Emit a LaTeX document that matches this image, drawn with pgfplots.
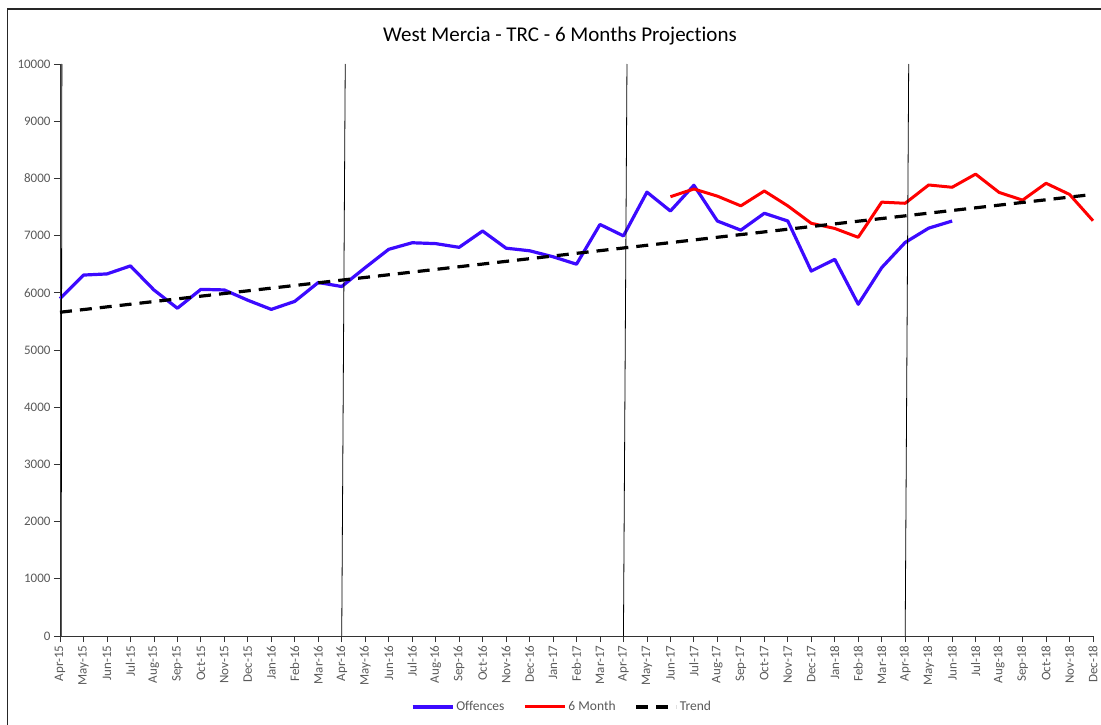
\documentclass[border=0pt]{standalone}
\usepackage{fontspec}
\setmainfont{Carlito}[Ligatures={NoCommon}]
\usepackage{pgfplots}
\pgfplotsset{compat=1.18}
\definecolor{offblue}{RGB}{60,10,255}
\definecolor{tickgray}{RGB}{89,89,89}
\begin{document}
\begin{tikzpicture}
\path[use as bounding box] (-60pt,-88pt) rectangle (1041pt,636pt);
\draw[line width=1.8pt, black!85] (-52.5pt,-120pt) -- (-52.5pt,627pt) -- (1120pt,627pt);
\node[font=\fontsize{21}{23}\selectfont] at (500pt,600pt) {West Mercia - TRC - 6 Months Projections};
\begin{axis}[
  scale only axis,
  width=1033pt, height=572pt,
  xmin=0, xmax=44, ymin=0, ymax=10000,
  axis x line*=bottom, axis y line*=left,
  axis line style={-, black!80, line width=0.9pt},
  ytick={0,1000,...,10000},
  scaled y ticks=false,
  xtick={0,...,44},
  xticklabels={Apr-15,May-15,Jun-15,Jul-15,Aug-15,Sep-15,Oct-15,Nov-15,Dec-15,Jan-16,Feb-16,Mar-16,Apr-16,May-16,Jun-16,Jul-16,Aug-16,Sep-16,Oct-16,Nov-16,Dec-16,Jan-17,Feb-17,Mar-17,Apr-17,May-17,Jun-17,Jul-17,Aug-17,Sep-17,Oct-17,Nov-17,Dec-17,Jan-18,Feb-18,Mar-18,Apr-18,May-18,Jun-18,Jul-18,Aug-18,Sep-18,Oct-18,Nov-18,Dec-18},
  x tick label style={rotate=90, anchor=east, font=\fontsize{13}{14}\selectfont, text=tickgray},
  y tick label style={font=\fontsize{13}{14}\selectfont, text=tickgray},
  /pgf/number format/assume math mode=true,
  /pgf/number format/1000 sep={},
  tick align=outside,
  major tick length=6pt,
  tick style={black!80, line width=0.8pt},
  xtick pos=lower, ytick pos=left,
  legend columns=3,
  legend style={draw=none, fill=none, at={(0.486,-0.124)}, anchor=center,
    font=\fontsize{13.5}{14}\selectfont, text=tickgray,
    /tikz/every even column/.append style={column sep=17pt}},
  legend image code/.code={\draw[#1] (0pt,0pt) -- (40pt,0pt);},
  clip=false,
]
\addplot[offblue, line width=3.2pt, line join=round] coordinates {
(0,5900) (1,6310) (2,6330) (3,6470) (4,6050) (5,5730) (6,6060) (7,6050) (8,5870) (9,5710)
(10,5850) (11,6180) (12,6110) (13,6440) (14,6760) (15,6875) (16,6860) (17,6795) (18,7080) (19,6780)
(20,6735) (21,6630) (22,6500) (23,7195) (24,6995) (25,7760) (26,7430) (27,7880) (28,7255) (29,7095)
(30,7390) (31,7255) (32,6380) (33,6585) (34,5800) (35,6440) (36,6880) (37,7130) (38,7255)
};
\addlegendentry{Offences}
\addplot[red, line width=3pt, line join=round] coordinates {
(26,7680) (27,7815) (28,7690) (29,7520) (30,7780) (31,7520) (32,7215) (33,7125) (34,6970) (35,7585)
(36,7565) (37,7885) (38,7845) (39,8075) (40,7755) (41,7620) (42,7915) (43,7720) (44,7260)
};
\addlegendentry{6 Month}
\addplot[black, line width=3.2pt, dash pattern=on 12pt off 8pt] coordinates {(0,5660) (44,7720)};
\addlegendentry{Trend}
\addplot[black, line width=0.8pt, forget plot] coordinates {(0.05,0) (0.08,10000)};
\addplot[black, line width=0.8pt, forget plot] coordinates {(12,0) (12.15,10000)};
\addplot[black, line width=0.8pt, forget plot] coordinates {(24,0) (24.15,10000)};
\addplot[black, line width=0.8pt, forget plot] coordinates {(36,0) (36.15,10000)};
\end{axis}
\end{tikzpicture}
\end{document}
